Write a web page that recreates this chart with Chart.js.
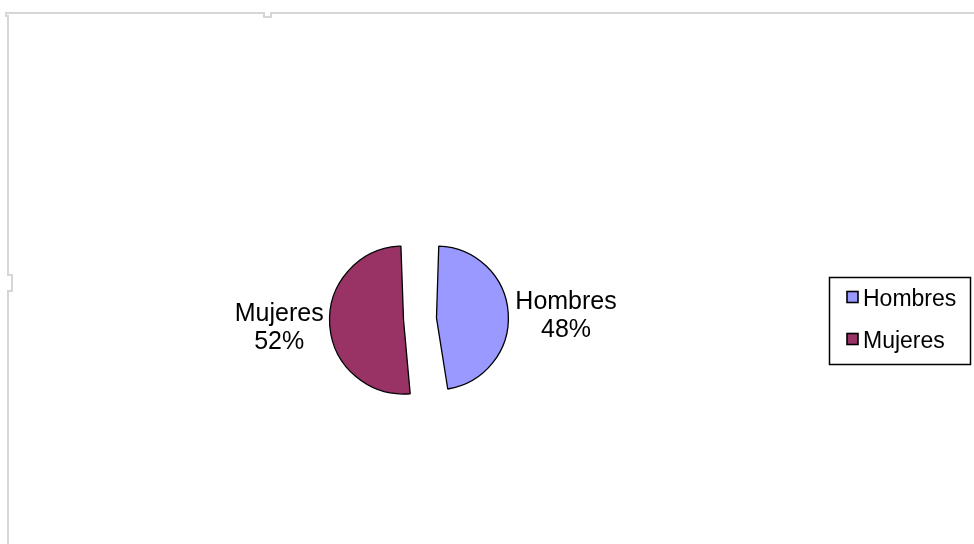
<!DOCTYPE html>
<html>
<head>
<meta charset="utf-8">
<script src="https://cdn.jsdelivr.net/npm/chart.js@4.4.1/dist/chart.umd.min.js"></script>
<style>
  html, body { margin: 0; padding: 0; background: #fff; }
  #wrap { position: relative; width: 974px; height: 544px; }
</style>
</head>
<body>
<div id="wrap"><canvas id="pieChart" width="974" height="544"></canvas></div>
<script>
const categories = ['Hombres', 'Mujeres'];
const percentages = [48, 52];
const sliceColors = ['#9999FF', '#993366'];

const FONT = '"Liberation Sans", Arial, sans-serif';

// light gray frame of the original sheet
const framePlugin = {
    id: 'frame',
    beforeDraw(chart) {
        const ctx = chart.ctx;
        ctx.save();
        ctx.strokeStyle = '#d6d6d6';
        ctx.lineWidth = 2;
        ctx.beginPath();
        ctx.moveTo(8, 544);
        ctx.lineTo(8, 291);
        ctx.lineTo(12, 291);
        ctx.lineTo(12, 275);
        ctx.lineTo(8, 275);
        ctx.lineTo(8, 16);
        ctx.lineTo(6, 16);
        ctx.lineTo(6, 13);
        ctx.lineTo(264, 13);
        ctx.lineTo(264, 17);
        ctx.lineTo(271, 17);
        ctx.lineTo(271, 13);
        ctx.lineTo(974, 13);
        ctx.stroke();
        ctx.restore();
    }
};

// labels "Name\nNN%" outside each slice
const sliceLabels = {
    id: 'sliceLabels',
    afterDatasetsDraw(chart) {
        const ctx = chart.ctx;
        const meta = chart.getDatasetMeta(0);
        ctx.save();
        ctx.font = '25px ' + FONT;
        ctx.fillStyle = '#000';
        ctx.textBaseline = 'alphabetic';
        ctx.textAlign = 'center';
        meta.data.forEach((arc, i) => {
            const p = arc.getProps(['x', 'y', 'startAngle', 'endAngle', 'outerRadius']);
            const off = (arc.options.offset || 0) / 4;
            const mid = (p.startAngle + p.endAngle) / 2;
            const reach = off + p.outerRadius + off;
            const px = p.x + Math.cos(mid) * reach;
            const py = p.y + Math.sin(mid) * reach;
            const lines = [categories[i], percentages[i] + '%'];
            const w = Math.max(...lines.map(t => ctx.measureText(t).width));
            const right = Math.cos(mid) >= 0;
            const cx = right ? px + 5 + w / 2 : px - 6 - w / 2;
            const top = py - 23;
            ctx.fillText(lines[0], cx, top + 19);
            ctx.fillText(lines[1], cx, top + 47);
        });
        ctx.restore();
    }
};

// boxed legend on the right
const boxLegend = {
    id: 'boxLegend',
    afterDraw(chart) {
        const ctx = chart.ctx;
        ctx.save();
        ctx.strokeStyle = '#000';
        ctx.lineWidth = 1.5;
        ctx.strokeRect(829.5, 277.5, 141, 87);
        ctx.font = '23px ' + FONT;
        ctx.textBaseline = 'alphabetic';
        ctx.textAlign = 'left';
        categories.forEach((name, i) => {
            const y = 297 + i * 42;
            ctx.fillStyle = sliceColors[i];
            ctx.fillRect(847, y - 5.5, 11, 11);
            ctx.lineWidth = 1.6;
            ctx.strokeStyle = '#000';
            ctx.strokeRect(847, y - 5.5, 11, 11);
            ctx.fillStyle = '#000';
            ctx.fillText(name, 863, y + 9);
        });
        ctx.restore();
    }
};

new Chart(document.getElementById('pieChart').getContext('2d'), {
    type: 'pie',
    data: {
        labels: categories,
        datasets: [{
            data: percentages,
            backgroundColor: sliceColors,
            borderColor: '#000',
            borderWidth: 1.3,
            offset: 66,
            radius: 57.5
        }]
    },
    options: {
        responsive: false,
        animation: false,
        layout: { padding: { left: 0, right: 134, top: 94, bottom: 0 } },
        plugins: { legend: { display: false }, tooltip: { enabled: false } }
    },
    plugins: [framePlugin, sliceLabels, boxLegend]
});
</script>
</body>
</html>
